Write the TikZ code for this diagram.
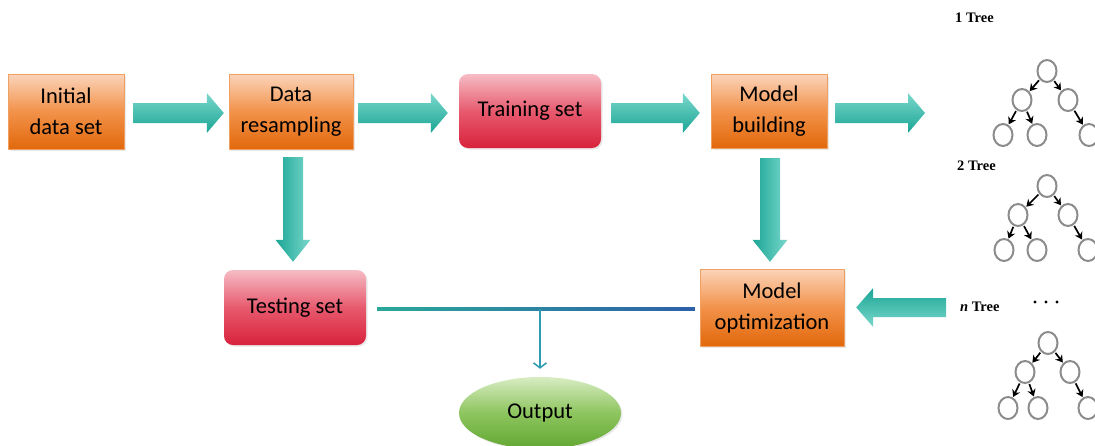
\documentclass[tikz,border=0pt]{standalone}
\usepackage{fontspec}
\setmainfont{Carlito}
\newfontfamily\treefont{Liberation Serif}
\usetikzlibrary{calc,shapes.geometric,arrows.meta,shadows}
\definecolor{orL}{HTML}{FBD4BA}
\definecolor{orM}{HTML}{F2924A}
\definecolor{orD}{HTML}{E2680B}
\definecolor{orB}{HTML}{F0A060}
\definecolor{rdL}{HTML}{F6BCC5}
\definecolor{rdM}{HTML}{E75A6E}
\definecolor{rdD}{HTML}{D8223C}
\definecolor{grL}{HTML}{D8ECC2}
\definecolor{grM}{HTML}{8DC55E}
\definecolor{grD}{HTML}{62A733}
\definecolor{tlL}{HTML}{7AD8CC}
\definecolor{tlD}{HTML}{1BA595}
\definecolor{lnA}{HTML}{2BA89A}
\definecolor{lnB}{HTML}{2D60A9}
\definecolor{lnV}{HTML}{2E9BB0}
\definecolor{treeGray}{HTML}{8C8C8C}
\newcommand\blockarr[6]{%
  \coordinate (bh) at ($(#3)!#6!(#2)$);
  \shade[#1] ($(#2)!#4!90:(#3)$) -- ($(bh)!#4!90:(#3)$) -- ($(bh)!#5!90:(#3)$) -- (#3)
    -- ($(bh)!#5!-90:(#3)$) -- ($(bh)!#4!-90:(#3)$) -- ($(#2)!#4!-90:(#3)$) -- cycle;}
\begin{document}
\begin{tikzpicture}[x=1pt,y=-1pt,
  box/.style={align=center, inner sep=0pt, font=\fontsize{22.5}{31}\selectfont,
    drop shadow={opacity=0.18, shadow xshift=1.5pt, shadow yshift=-1.5pt}},
  orangebox/.style={box, top color=orL, bottom color=orD, middle color=orM, draw=orB, line width=0.4pt},
  redbox/.style={box, rounded corners=9pt, top color=rdL, bottom color=rdD, middle color=rdM},
  greenell/.style={box, ellipse, top color=grL, bottom color=grD, middle color=grM},
  hshade/.style={top color=tlL, bottom color=tlD},
  hshaderev/.style={top color=tlD, bottom color=tlL},
  vshade/.style={left color=tlD, right color=tlL},
  tnode/.style={ellipse, draw=treeGray, line width=2pt, minimum width=19pt, minimum height=22pt, inner sep=0pt},
  tedge/.style={-{Stealth[length=7pt,width=8.5pt]}, line width=1.7pt, shorten <=1pt, shorten >=0.5pt},
  tlabel/.style={font=\treefont\fontsize{14.5}{16}\selectfont\bfseries, anchor=west, inner sep=0pt}
]
\useasboundingbox (0,0) rectangle (1095,445);
\clip (0,0) rectangle (1095,445);

% main boxes
\node[orangebox, minimum width=116pt, minimum height=75pt] (init) at (66,111.5) {Initial\\data set};
\node[orangebox, minimum width=124pt, minimum height=75pt] (resamp) at (291,111.5) {Data\\resampling};
\node[redbox, minimum width=142pt, minimum height=74pt] (train) at (530,111) {Training set};
\node[orangebox, minimum width=116pt, minimum height=74pt] (build) at (769,111) {Model\\building};
\node[redbox, minimum width=142pt, minimum height=75pt] (test) at (295,307.5) {Testing set};
\node[orangebox, minimum width=144pt, minimum height=77pt] (opt) at (772,307.5) {Model\\optimization};
\node[greenell, minimum width=162pt, minimum height=72pt] (out) at (540,413) {Output};

% block arrows
\coordinate (a1t) at ($(init.east)+(9,1.5)$);
\coordinate (a1h) at ($(resamp.west)+(-5,1.5)$);
\blockarr{hshade}{a1t}{a1h}{10pt}{20pt}{17pt}
\coordinate (a2t) at ($(resamp.east)+(5,1.5)$);
\coordinate (a2h) at ($(train.west)+(-11,2)$);
\blockarr{hshade}{a2t}{a2h}{10pt}{20pt}{17pt}
\coordinate (a3t) at ($(train.east)+(10,2)$);
\coordinate (a3h) at ($(build.west)+(-11,2)$);
\blockarr{hshade}{a3t}{a3h}{10pt}{20pt}{17pt}
\coordinate (a4t) at ($(build.east)+(8,2)$);
\coordinate (a4h) at (925,113);
\blockarr{hshade}{a4t}{a4h}{10pt}{20pt}{17pt}
\coordinate (d1t) at ($(resamp.south)+(2,8)$);
\coordinate (d1h) at ($(resamp.south |- test.north)+(2,-8)$);
\blockarr{vshade}{d1t}{d1h}{10pt}{17.5pt}{22pt}
\coordinate (d2t) at ($(build.south)+(1,10)$);
\coordinate (d2h) at ($(build.south |- opt.north)+(1,-7)$);
\blockarr{vshade}{d2t}{d2h}{10pt}{17.5pt}{22pt}
\coordinate (l1t) at (946,307.5);
\coordinate (l1h) at ($(opt.east)+(12,0)$);
\blockarr{hshaderev}{l1t}{l1h}{9.5pt}{19.5pt}{17pt}

% testing -> optimization line and output
\coordinate (ls) at ($(test.east)+(11,1.5)$);
\coordinate (le) at ($(opt.west)+(-5,1.5)$);
\shade[left color=lnA, right color=lnB] ($(ls)+(0,-1.4)$) rectangle ($(le)+(0,1.4)$);
\coordinate (jn) at ($(ls)!(out.north)!(le)$);
\draw[lnV, line width=1.6pt, -{Straight Barb[length=5pt,width=13pt,line width=1.5pt]}, shorten >=8pt] (jn) -- (out.north);

% trees
\node[tlabel] (l1) at (955,18) {1\ Tree};
\node[tlabel] (l2) at (957,166) {2\ Tree};
\node[tlabel] (l3) at (960,307) {\textit{n}\ Tree};
\foreach \x in {1035,1046,1057} \fill (\x,302) circle (1.6pt);

% tree 1
\node[tnode] (t1r) at (1047,71) {};
\node[tnode] (t1a) at (1022,100) {};
\node[tnode] (t1b) at (1068,100) {};
\node[tnode] (t1c) at (1003,135) {};
\node[tnode] (t1d) at (1037,135) {};
\node[tnode] (t1e) at (1089,135) {};
% tree 2
\node[tnode] (t2r) at (1047,186) {};
\node[tnode] (t2a) at (1018,215) {};
\node[tnode] (t2b) at (1068,215) {};
\node[tnode] (t2c) at (1004,250) {};
\node[tnode] (t2d) at (1037,250) {};
\node[tnode] (t2e) at (1088,250) {};
% tree 3
\node[tnode] (t3r) at (1048,343) {};
\node[tnode] (t3a) at (1025,372) {};
\node[tnode] (t3b) at (1070,372) {};
\node[tnode] (t3c) at (1008,408) {};
\node[tnode] (t3d) at (1038,408) {};
\node[tnode] (t3e) at (1088,408) {};
\foreach \t in {1,2,3} {
  \draw[tedge] (t\t r) -- (t\t a);
  \draw[tedge] (t\t r) -- (t\t b);
  \draw[tedge] (t\t a) -- (t\t c);
  \draw[tedge] (t\t a) -- (t\t d);
  \draw[tedge] (t\t b) -- (t\t e);
}
\end{tikzpicture}
\end{document}
